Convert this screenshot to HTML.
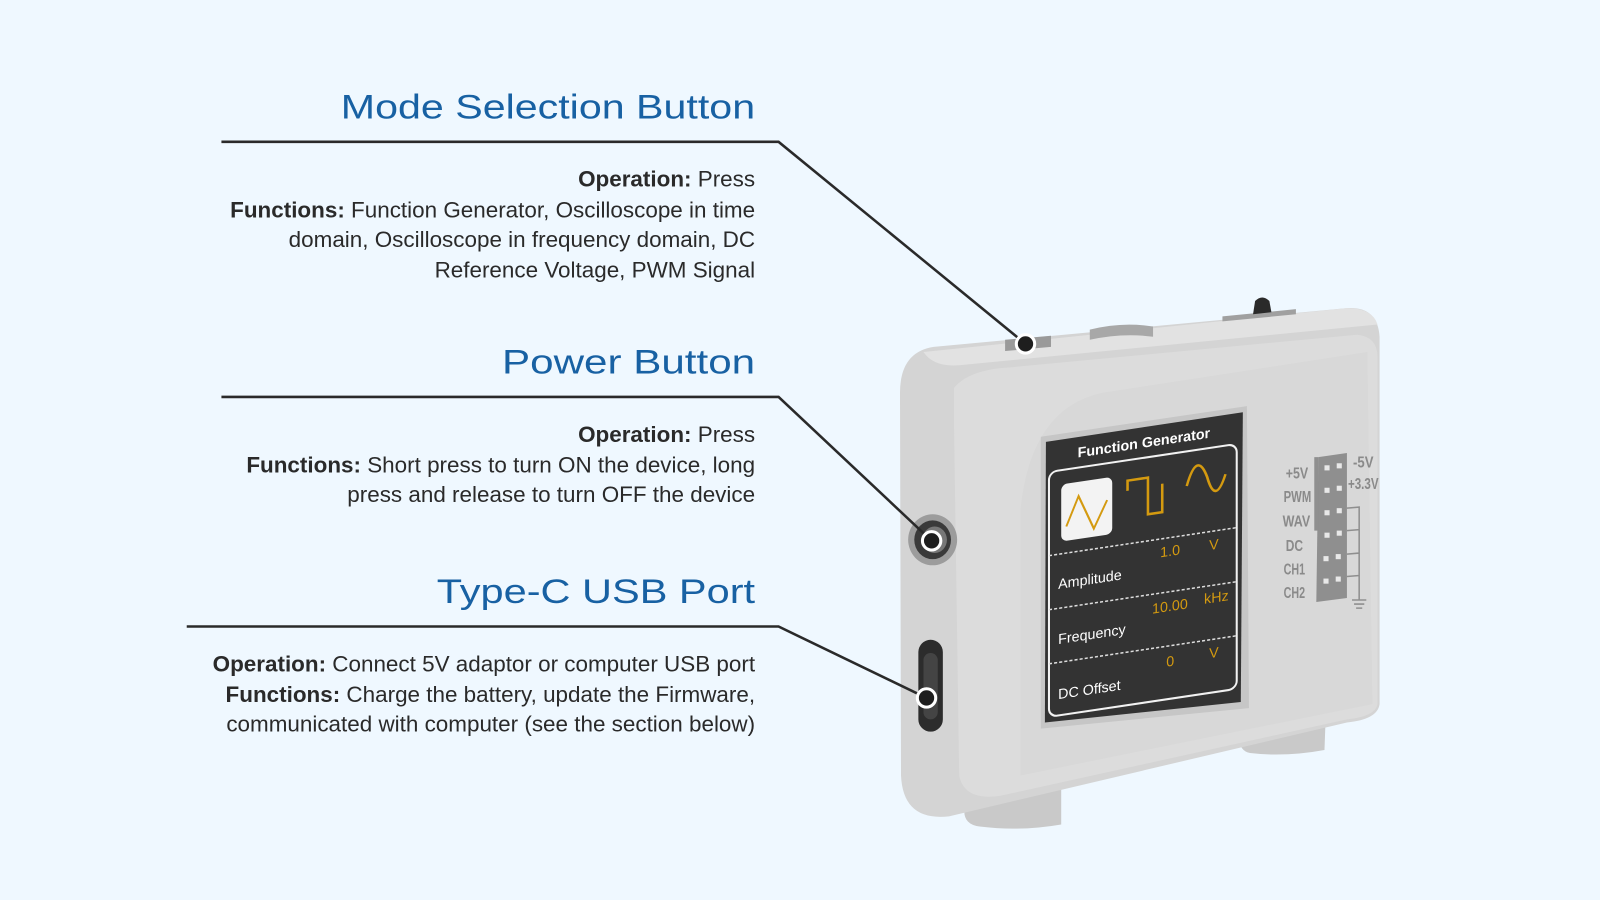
<!DOCTYPE html>
<html><head><meta charset="utf-8"><style>
html,body{margin:0;padding:0;background:#eff8ff;}
svg{display:block}
.h{font-family:"Liberation Sans",sans-serif;fill:#1861a3;font-size:34px;}
.t{font-family:"Liberation Sans",sans-serif;fill:#2a2a2a;font-size:22px;}
.b{font-weight:bold;}
.s{font-family:"Liberation Sans",sans-serif;}
</style></head><body>
<svg width="1600" height="900" viewBox="0 0 1600 900" xmlns="http://www.w3.org/2000/svg">
<rect width="1600" height="900" fill="#eff8ff"/>
<g transform="scale(1.0204)">
<!-- headings -->
<text class="h" x="740" y="116" text-anchor="end" textLength="406" lengthAdjust="spacingAndGlyphs">Mode Selection Button</text>
<text class="h" x="740" y="366" text-anchor="end" textLength="248" lengthAdjust="spacingAndGlyphs">Power Button</text>
<text class="h" x="740" y="591" text-anchor="end" textLength="312" lengthAdjust="spacingAndGlyphs">Type-C USB Port</text>
<!-- body text -->
<g class="t" text-anchor="end">
<text x="740" y="183"><tspan class="b">Operation:</tspan> Press</text>
<text x="740" y="213"><tspan class="b">Functions:</tspan> Function Generator, Oscilloscope in time</text>
<text x="740" y="242">domain, Oscilloscope in frequency domain, DC</text>
<text x="740" y="272">Reference Voltage, PWM Signal</text>
<text x="740" y="433"><tspan class="b">Operation:</tspan> Press</text>
<text x="740" y="463"><tspan class="b">Functions:</tspan> Short press to turn ON the device, long</text>
<text x="740" y="492">press and release to turn OFF the device</text>
<text x="740" y="658"><tspan class="b">Operation:</tspan> Connect 5V adaptor or computer USB port</text>
<text x="740" y="688"><tspan class="b">Functions:</tspan> Charge the battery, update the Firmware,</text>
<text x="740" y="717">communicated with computer (see the section below)</text>
</g>

<!-- feet -->
<path d="M945 770 L1040 760 L1040 808 Q1000 815 960 810 Q945 808 945 795 Z" fill="#c9c9c9"/>
<path d="M1215 690 L1300 680 L1298 735 Q1260 742 1225 738 Q1215 736 1215 725 Z" fill="#c9c9c9"/>
<!-- body -->
<path d="M915 340 L1320 302 Q1350 300 1352 330 L1352 690 Q1350 705 1320 708 L930 800 Q885 805 883 760 L882 385 Q882 345 915 340 Z" fill="#d4d4d4"/>
<path d="M905 345 L1320 302 Q1345 302 1350 318 L940 358 Q915 360 905 345 Z" fill="#e2e2e2"/>
<path d="M935 380 Q950 362 990 360 L1330 328 Q1350 330 1350 350 L1350 690 Q1348 702 1320 705 L980 780 Q945 785 940 760 L935 420 Z" fill="#dcdcdc"/>
<path d="M1000 500 Q1010 400 1080 385 L1340 345 L1345 690 L1000 760 Z" fill="#d8d8d8"/>
<!-- top buttons -->
<path d="M985 333 L1030 329 L1030 340 L985 344 Z" fill="#9a9a9a"/>
<path d="M1068 323 Q1100 315 1130 320 L1130 330 Q1100 326 1068 333 Z" fill="#a8a8a8"/>
<path d="M1198 310 L1270 303 L1270 308 L1198 315 Z" fill="#a0a0a0"/>
<path d="M1228 308 L1230 295 Q1237 288 1244 295 L1246 306 Z" fill="#2a2a2a"/>
<!-- power button -->
<ellipse cx="914" cy="529" rx="24" ry="25" fill="#9c9c9c"/>
<ellipse cx="914" cy="529" rx="18" ry="19" fill="#3a3a3a"/>
<ellipse cx="916" cy="529" rx="12" ry="13" fill="#777"/>
<!-- usb -->
<rect x="900" y="627" width="24" height="90" rx="12" fill="#2c2c2c"/>
<rect x="905" y="640" width="14" height="65" rx="7" fill="#444"/>
<!-- screen bezel -->
<polygon points="1020,428 1222,398 1224,694 1020,714" fill="#c6c6c6"/>
<polygon points="1025,433 1218,404 1216,688 1024,708" fill="#333"/>
<g transform="translate(1025,433) skewY(-8.5)">
<text x="96" y="20" text-anchor="middle" class="s" font-size="14" font-weight="bold" fill="#fff">Function Generator</text>
<rect x="3" y="30" width="184" height="240" rx="8" fill="none" stroke="#f2f2f2" stroke-width="2"/>
<rect x="15" y="44" width="50" height="56" rx="6" fill="#f3f3f3"/>
<polyline points="20,86 32,58 47,92 60,66" fill="none" stroke="#d49a10" stroke-width="2"/>
<polyline points="80,60 80,50 100,50 100,86 114,86 114,58" fill="none" stroke="#d49a10" stroke-width="2.5"/>
<path d="M138 64 Q148 30 158 58 Q166 88 176 58" fill="none" stroke="#d49a10" stroke-width="2.5"/>
<line x1="3" y1="112" x2="187" y2="112" stroke="#ddd" stroke-width="1.5" stroke-dasharray="3,2"/>
<line x1="3" y1="165" x2="187" y2="165" stroke="#ddd" stroke-width="1.5" stroke-dasharray="3,2"/>
<line x1="3" y1="218" x2="187" y2="218" stroke="#ddd" stroke-width="1.5" stroke-dasharray="3,2"/>
<g class="s" font-size="14">
<text x="12" y="146" fill="#fff">Amplitude</text>
<text x="112" y="130" fill="#d49a10">1.0</text>
<text x="160" y="130" fill="#d49a10">V</text>
<text x="12" y="200" fill="#fff">Frequency</text>
<text x="104" y="184" fill="#d49a10">10.00</text>
<text x="155" y="182" fill="#d49a10">kHz</text>
<text x="12" y="254" fill="#fff">DC Offset</text>
<text x="118" y="238" fill="#d49a10">0</text>
<text x="160" y="236" fill="#d49a10">V</text>
</g>
</g>
<!-- pin header -->
<polygon points="1292,448 1320,444 1320,586 1290,590" fill="#8f8f8f"/>
<polygon points="1292,448 1292,520 1288,520 1288,448" fill="#8f8f8f"/>
<g fill="#e8e8e8">
<rect x="1298" y="456" width="5" height="5"/><rect x="1310" y="454" width="5" height="5"/>
<rect x="1298" y="478" width="5" height="5"/><rect x="1310" y="476" width="5" height="5"/>
<rect x="1298" y="500" width="5" height="5"/><rect x="1310" y="498" width="5" height="5"/>
<rect x="1298" y="522" width="5" height="5"/><rect x="1310" y="520" width="5" height="5"/>
<rect x="1297" y="545" width="5" height="5"/><rect x="1309" y="543" width="5" height="5"/>
<rect x="1297" y="567" width="5" height="5"/><rect x="1309" y="565" width="5" height="5"/>
</g>
<path d="M1320 498 L1332 497 L1332 588 M1320 520 L1332 519 M1320 543 L1332 542 M1320 565 L1332 564 M1325 588 L1339 588 M1327 592 L1337 592 M1329 596 L1335 596" stroke="#8f8f8f" stroke-width="1.5" fill="none"/>
<g class="s" font-size="15" font-weight="bold" fill="#8a8a8a" text-anchor="end">
<text x="1282" y="469" textLength="22" lengthAdjust="spacingAndGlyphs">+5V</text>
<text x="1285" y="492" textLength="27" lengthAdjust="spacingAndGlyphs">PWM</text>
<text x="1284" y="516" textLength="27" lengthAdjust="spacingAndGlyphs">WAV</text>
<text x="1277" y="540" textLength="17" lengthAdjust="spacingAndGlyphs">DC</text>
<text x="1279" y="563" textLength="21" lengthAdjust="spacingAndGlyphs">CH1</text>
<text x="1279" y="586" textLength="21" lengthAdjust="spacingAndGlyphs">CH2</text>
</g>
<g class="s" font-size="15" font-weight="bold" fill="#8a8a8a">
<text x="1326" y="458" textLength="20" lengthAdjust="spacingAndGlyphs">-5V</text>
<text x="1321" y="479" textLength="30" lengthAdjust="spacingAndGlyphs">+3.3V</text>
</g>

<!-- leader lines -->
<g stroke="#2a2a2a" stroke-width="2.5" fill="none">
<polyline points="217,139 763,139 1005,337"/>
<polyline points="217,389 763,389 913,530"/>
<polyline points="183,614 763,614 908,684"/>
</g>
<g fill="#1e1e1e" stroke="#fff" stroke-width="3">
<circle cx="1005" cy="337" r="9"/>
<circle cx="913" cy="530" r="9"/>
<circle cx="908" cy="684" r="9"/>
</g>
</g>
</svg>
</body></html>
